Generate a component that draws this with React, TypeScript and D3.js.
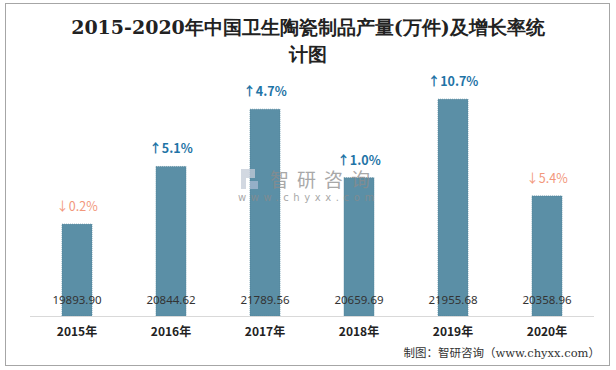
import React from 'react'
import * as d3 from 'd3'

const years = ['2015年', '2016年', '2017年', '2018年', '2019年', '2020年']
const output = [19893.9, 20844.62, 21789.56, 20659.69, 21955.68, 20358.96]
const growth = [-0.2, 5.1, 4.7, 1.0, 10.7, -5.4]

const W = 616
const H = 370
const baseY = 316

const App = () => {
  const x = d3.scaleBand().domain(years).range([30, 594]).paddingInner(0.68).paddingOuter(0.34)
  const y = d3.scaleLinear().domain([18377, 22000]).range([baseY, baseY - 0.0606 * (22000 - 18377)])

  return (
    <svg width={W} height={H} style={{ position: 'absolute', left: 0, top: 0 }}>
      <rect x={5.5} y={3.5} width={604} height={362} fill="#fff" stroke="#a6a6a6" />
      <text x={308} y={34} textAnchor="middle" fontFamily="'DejaVu Serif', 'Liberation Serif', serif" fontWeight="bold" fontSize={19} fill="#222">
        2015-2020年中国卫生陶瓷制品产量(万件)及增长率统
      </text>
      <text x={308} y={61} textAnchor="middle" fontFamily="'DejaVu Serif', 'Liberation Serif', serif" fontWeight="bold" fontSize={19} fill="#222">
        计图
      </text>
      {years.map((yr, i) => {
        const bx = x(yr) as number
        const top = y(output[i])
        return (
          <rect key={yr} x={bx} y={top} width={x.bandwidth()} height={baseY - top}
            fill="#5b8fa6" stroke="#4d7f95" strokeDasharray="1,1" strokeWidth={0.6} />
        )
      })}
      {/* watermark */}
      <g opacity={0.75}>
        <path d="M241,169 h14 v9 h-9 v11 h-5 z" fill="#c3cbd8" />
        <rect x={250} y={181} width={8} height={8} fill="#a9bad2" />
        <text x={270} y={187} fontFamily="'Noto Sans CJK SC', sans-serif" fontSize={19} fill="#8c8c8c" letterSpacing={8}>智研咨询</text>
        <text x={238} y={201} fontFamily="'DejaVu Sans', sans-serif" fontSize={10} fill="#8c8c8c" letterSpacing={4.6}>www.chyxx.com</text>
      </g>
      {years.map((yr, i) => {
        const cx = (x(yr) as number) + x.bandwidth() / 2
        const up = growth[i] >= 0
        return (
          <text key={'g' + yr} x={cx} y={y(output[i]) - 13} textAnchor="middle"
            fontFamily="'Noto Sans CJK SC', 'Noto Sans', sans-serif" fontSize={12.5}
            fontWeight={up ? 'bold' : 'normal'} fill={up ? '#1f74a6' : '#f2977b'}>
            {(up ? '↑' : '↓') + Math.abs(growth[i]).toFixed(1) + '%'}
          </text>
        )
      })}
      {years.map((yr, i) => (
        <text key={'v' + yr} x={(x(yr) as number) + x.bandwidth() / 2} y={304} textAnchor="middle"
          fontFamily="'Noto Sans', 'DejaVu Sans', sans-serif" fontSize={11.5} fill="#333">
          {output[i].toFixed(2)}
        </text>
      ))}
      <line x1={30} x2={594} y1={baseY + 0.5} y2={baseY + 0.5} stroke="#d9d9d9" />
      {years.map(yr => (
        <text key={'x' + yr} x={(x(yr) as number) + x.bandwidth() / 2} y={336} textAnchor="middle"
          fontFamily="'Noto Sans CJK SC', sans-serif" fontWeight="bold" fontSize={12} fill="#222">
          {yr}
        </text>
      ))}
      <text x={600} y={357} textAnchor="end" fontFamily="'DejaVu Serif', 'Noto Sans CJK SC', serif" fontSize={11.5} fill="#333">
        制图：智研咨询（www.chyxx.com）
      </text>
    </svg>
  )
}

export default App
